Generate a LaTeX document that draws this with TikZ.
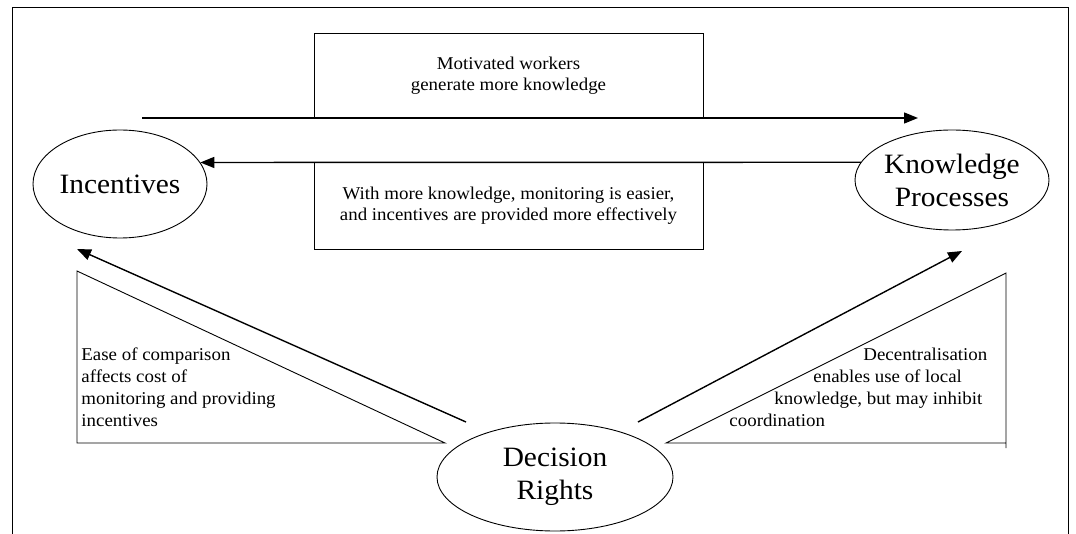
\documentclass[tikz,border=0pt]{standalone}
\usepackage{fontspec}
\setmainfont{Liberation Serif}[FakeStretch=1.05]
\usetikzlibrary{arrows.meta,shapes.geometric,positioning}

\begin{document}
\begin{tikzpicture}[x=1pt,y=-1pt,line width=0.9pt,
    concept/.style={draw,ellipse,inner sep=0pt,align=center,
      font=\fontsize{28}{33}\selectfont},
    effect/.style={draw,rectangle,inner sep=0pt,align=center,
      minimum width=389pt,font=\fontsize{18}{21}\selectfont},
    remark/.style={anchor=base west,inner sep=0pt,align=left,
      font=\fontsize{18}{22}\selectfont},
    link/.style={line width=1.4pt,-{Triangle[length=14pt,width=11pt]}}]
  \useasboundingbox (0,0) rectangle (1076,534);
  \draw (12,534) -- (12,7) -- (1068,7) -- (1068,534);

  \node[concept,minimum width=174pt,minimum height=108pt] (inc) at (120,184) {Incentives};
  \node[concept,minimum width=194pt,minimum height=100pt] (know) at (952,180) {Knowledge\\Processes};
  \node[concept,minimum width=236pt,minimum height=108pt] (dec) at (555,477) {Decision\\Rights};

  \node[effect,minimum height=85pt] (motiv) at (508.5,75.5) {Motivated workers\\generate more knowledge};
  \node[effect,minimum height=87pt] (monit) at (508.5,205.5)
    {With more knowledge, monitoring is easier,\\and incentives are provided more effectively};

  % wedges behind the two lower links
  \draw (77,271) -- (77,443) -- (445,443) -- cycle;
  \draw (1006,448) -- (1006,273) -- (666,443) -- (1006,443);
  \node[remark] (cmp) at (81,426)
    {Ease of comparison\\affects cost of\\monitoring and providing\\incentives};
  \node[remark] (dcn) at (729,426)
    {\hspace*{134pt}Decentralisation\\\hspace*{84pt}enables use of local\\
     \hspace*{45pt}knowledge, but may inhibit\\coordination};

  \coordinate (fw0) at (142,118);
  \coordinate (fw1) at (918,118);
  \coordinate (dl) at (466,422);
  \coordinate (il) at (77,249);
  \coordinate (dr) at (638,422);
  \coordinate (kr) at (962,251);

  \path[link] (fw0) edge (fw1)
              (know.169) edge (inc.15)
              (dl) edge (il)
              (dr) edge (kr);
\end{tikzpicture}
\end{document}
